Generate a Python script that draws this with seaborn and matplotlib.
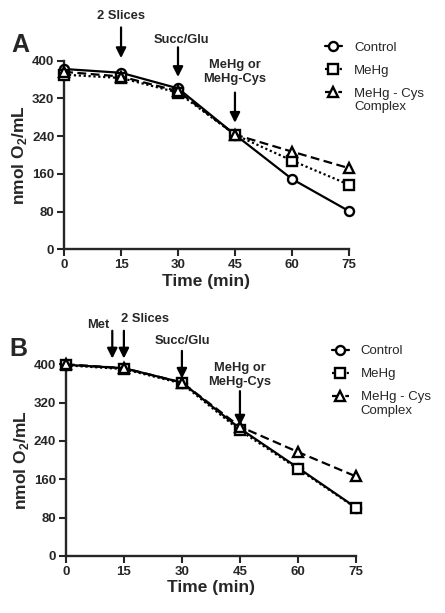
import matplotlib
matplotlib.use("Agg")
import matplotlib.pyplot as plt
import seaborn as sns
from matplotlib.lines import Line2D

time = [0, 15, 30, 45, 60, 75]

a_control = [382, 374, 341, 243, 149, 81]
a_mehg = [370, 363, 332, 243, 188, 137]
a_complex = [376, 366, 335, 243, 207, 172]

b_control = [399, 392, 362, 266, 184, 101]
b_mehg = [398, 390, 360, 262, 182, 100]
b_complex = [400, 392, 362, 270, 217, 166]

series_names = ["Control", "MeHg", "MeHg - Cys"]
series_name_cont = "Complex"

a_events = [15, 30, 45]
a_event_labels = ["2 Slices", "Succ/Glu", "MeHg or\nMeHg-Cys"]
b_events = [12, 15, 30, 45]
b_event_labels = ["Met", "2 Slices", "Succ/Glu", "MeHg or\nMeHg-Cys"]

sns.set_style("ticks")
plt.rcParams["font.family"] = ["Liberation Sans", "DejaVu Sans"]
plt.rcParams["mathtext.fontset"] = "custom"
plt.rcParams["mathtext.rm"] = "Liberation Sans"
plt.rcParams["mathtext.bf"] = "Liberation Sans:bold"

styles = [
    dict(marker="o", linestyle="-"),
    dict(marker="s", linestyle=(0, (1, 1.2))),
    dict(marker="^", linestyle=(0, (4, 2))),
]

fig = plt.figure(figsize=(4.45, 6.13), dpi=100)
ax_a = fig.add_axes([0.144, 0.5933, 0.640, 0.308])
ax_b = fig.add_axes([0.148, 0.093, 0.652, 0.3127])


def draw_panel(ax, series):
    for vals, st in zip(series, styles):
        sns.lineplot(x=time, y=vals, ax=ax, color="black", lw=1.6,
                     markersize=6.5, markerfacecolor="white",
                     markeredgecolor="black", markeredgewidth=1.7,
                     clip_on=False, zorder=3, **st)
    ax.set_xlim(0, 75)
    ax.set_ylim(0, 400)
    ax.set_xticks([0, 15, 30, 45, 60, 75])
    ax.set_yticks([0, 80, 160, 240, 320, 400])
    ax.tick_params(direction="out", length=5, width=1.5, labelsize=9.5, pad=2)
    for lab in ax.get_xticklabels() + ax.get_yticklabels():
        lab.set_fontweight("bold")
    for s in ["left", "bottom"]:
        ax.spines[s].set_linewidth(1.7)
    sns.despine(ax=ax)
    ax.set_xlabel("Time (min)", fontsize=12.5, fontweight="bold", labelpad=2)
    ax.set_ylabel(r"nmol O$_\mathbf{2}$/mL", fontsize=12.5, fontweight="bold",
                  labelpad=2)


def arrow(ax, x, y_text, y_tail, y_head, label, tx=None):
    ax.annotate("", xy=(x, y_head), xytext=(x, y_tail),
                arrowprops=dict(arrowstyle="-|>", color="black", lw=1.6,
                                mutation_scale=15, shrinkA=0, shrinkB=0),
                annotation_clip=False)
    ax.text(x if tx is None else tx, y_text, label, ha="center", va="center",
            fontsize=9.3, fontweight="bold", linespacing=1.25, clip_on=False)


draw_panel(ax_a, [a_control, a_mehg, a_complex])
draw_panel(ax_b, [b_control, b_mehg, b_complex])

# panel A arrows
arrow(ax_a, a_events[0], 495, 470, 405, a_event_labels[0])
arrow(ax_a, a_events[1], 443, 428, 365, a_event_labels[1], tx=31)
arrow(ax_a, a_events[2], 375, 332, 268, a_event_labels[2])

# panel B arrows
arrow(ax_b, b_events[0], 481, 470, 412, b_event_labels[0], tx=8.5)
arrow(ax_b, b_events[1], 494, 470, 412, b_event_labels[1], tx=20.5)
arrow(ax_b, b_events[2], 449, 428, 370, b_event_labels[2])
arrow(ax_b, b_events[3], 378, 344, 272, b_event_labels[3])

fig.text(0.045, 0.927, "A", fontsize=18, fontweight="bold", ha="center", va="center")
fig.text(0.042, 0.430, "B", fontsize=18, fontweight="bold", ha="center", va="center")

handles = [Line2D([], [], color="black", lw=1.6, markersize=6.5,
                  markerfacecolor="white", markeredgecolor="black",
                  markeredgewidth=1.7, **st) for st in styles]
legends = []
for ax_y, ax_x in [(0.932, 0.730), (0.437, 0.745)]:
    leg = fig.legend(handles, series_names, loc="upper left",
                     bbox_to_anchor=(ax_x, ax_y), frameon=False, fontsize=9.5,
                     handlelength=1.3, handletextpad=0.9, labelspacing=0.82,
                     borderaxespad=0, borderpad=0)
    legends.append(leg)

# second line of the last legend label, kept under its first line
fig.canvas.draw()
inv = fig.transFigure.inverted()
for leg in legends:
    bb = leg.get_texts()[2].get_window_extent()
    x0, y0 = inv.transform((bb.x0, bb.y0))
    fig.text(x0, y0 - 0.002, series_name_cont, fontsize=9.5, ha="left", va="top")

fig.savefig("out.png", dpi=100)
